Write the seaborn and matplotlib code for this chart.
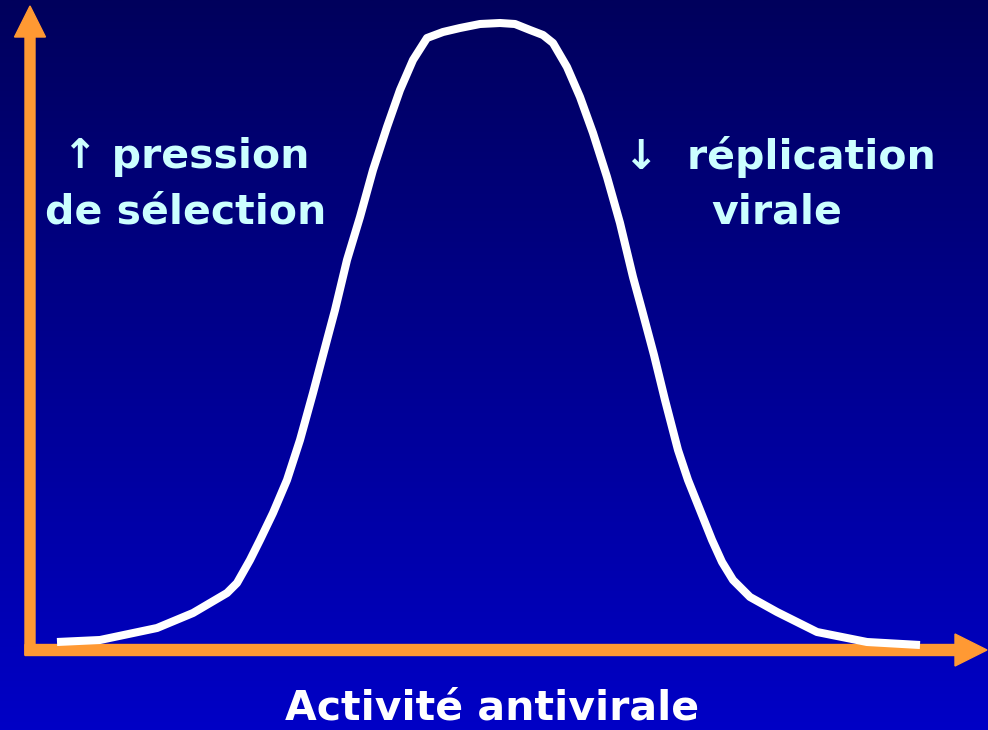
import numpy as np
import pandas as pd
import matplotlib
matplotlib.use("Agg")
import matplotlib.pyplot as plt
import seaborn as sns

# Curve: antiviral activity (x) vs response (y)
activity = [27, 70, 127, 163, 197, 207, 220, 230, 243, 257, 270, 283, 297, 305, 317, 330, 343,
            357, 370, 383, 397, 413, 430, 450, 470, 485, 500, 513, 523, 537, 550, 563, 577,
            590, 603, 612, 624, 635, 648, 658, 666, 682, 692, 703, 720, 747, 787, 837, 890]
response = [8, 10, 22, 37, 57, 67, 90, 110, 137, 170, 210, 257, 310, 340, 390, 433, 480,
            523, 560, 590, 612, 618, 622, 626, 627, 626, 620, 615, 607, 583, 553, 517, 473,
            427, 373, 340, 295, 250, 200, 170, 150, 110, 88, 70, 53, 38, 18, 8, 5]

left_label = ["\u2191 pression", "de sélection"]
right_label = ["\u2193  réplication", "virale"]
x_label = "Activité antivirale"

df = pd.DataFrame({"activity": activity, "response": response})

W, H = 988, 730
fig = plt.figure(figsize=(W / 100, H / 100), dpi=100)
ax = fig.add_axes([0, 0, 1, 1])
xmin, xmax, ymin, ymax = -30, 958, -80, 650
ax.set_xlim(xmin, xmax)
ax.set_ylim(ymin, ymax)
ax.axis("off")

# background gradient
top = np.array([0x00, 0x00, 0x5c]) / 255
bot = np.array([0x00, 0x00, 0xc6]) / 255
t = np.linspace(0, 1, 256)[:, None]
grad = (top[None, :] * (1 - t) + bot[None, :] * t)[:, None, :]
ax.imshow(grad, extent=[xmin, xmax, ymin, ymax], aspect="auto", zorder=0)

orange = "#ff9933"
# axes arrows
ax.arrow(0, -5, 0, 649, width=10, head_width=31, head_length=31,
         length_includes_head=True, color=orange, zorder=2)
ax.arrow(-5, 0, 962, 0, width=11, head_width=32, head_length=32,
         length_includes_head=True, color=orange, zorder=2)

sns.lineplot(data=df, x="activity", y="response", ax=ax, color="white",
             linewidth=5.8, sort=False, zorder=3, solid_capstyle="butt",
             solid_joinstyle="round")

cyan = "#ccffff"
fs = 29.5
kw = dict(fontsize=fs, fontweight="bold", ha="center", va="center", family="DejaVu Sans")
ax.text(156, 493, left_label[0], color=cyan, **kw)
ax.text(156, 438, left_label[1], color=cyan, **kw)
ax.text(750, 493, right_label[0], color=cyan, **kw)
ax.text(747, 438, right_label[1], color=cyan, **kw)
ax.text(462, -58, x_label, color="white", **kw)

fig.savefig("out.png", dpi=100)
